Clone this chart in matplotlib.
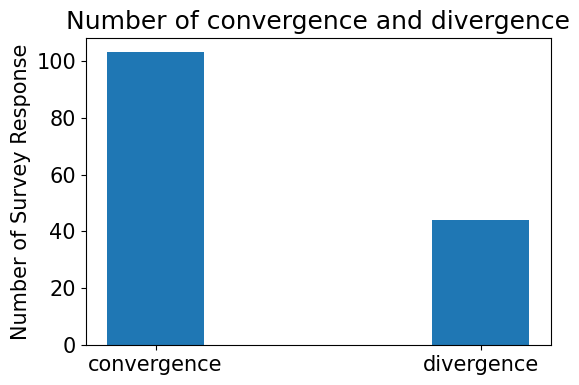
import matplotlib
matplotlib.use("Agg")
import matplotlib.pyplot as plt

categories = ["convergence", "divergence"]
counts = [103, 44]

plt.rcParams['font.size'] = 15
fig, ax = plt.subplots(figsize=(5.79, 3.85), dpi=100)
ax.bar(categories, counts, width=0.3, color="#1f77b4")
ax.set_ylabel("Number of Survey Response")
ax.set_title("Number of convergence and divergence", fontsize=18)
fig.subplots_adjust(left=0.148, right=0.951, top=0.902, bottom=0.104)
fig.savefig("out.png", dpi=100)
